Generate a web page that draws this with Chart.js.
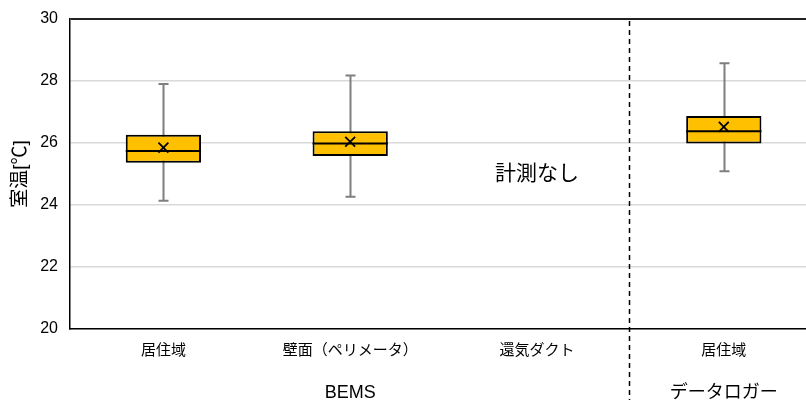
<!DOCTYPE html>
<html>
<head>
<meta charset="utf-8">
<script src="https://cdn.jsdelivr.net/npm/chart.js@4.4.1/dist/chart.umd.min.js"></script>
<style>
  html, body { margin: 0; padding: 0; background: #fff; overflow: hidden; }
  #wrap { width: 826px; height: 400px; position: relative; }
  #c { display: block; }
</style>
</head>
<body>
<div id="wrap"><canvas id="c" width="826" height="400"></canvas></div>
<script>
// Room temperature distribution per measurement point
const categories = ['居住域', '壁面（ペリメータ）', '還気ダクト', '居住域'];
const groups = [
  { label: 'BEMS', from: 0, to: 2 },
  { label: 'データロガー', from: 3, to: 3 }
];
const whiskerMin = [24.14, 24.27, null, 25.09];
const quartile1  = [25.36, 25.58, null, 25.98];
const medians    = [25.74, 25.98, null, 26.38];
const quartile3  = [26.27, 26.38, null, 26.87];
const whiskerMax = [27.90, 28.18, null, 28.57];
const means      = [25.85, 26.04, null, 26.52];
const yTicks = [20, 22, 24, 26, 28, 30];
const noDataIndex = 2;
const noDataText = '計測なし';
const noDataValue = 25;

const FONT = "'Liberation Sans', 'Noto Sans CJK JP', Arial, sans-serif";

const boxPlotPlugin = {
  id: 'boxPlotParts',
  beforeDatasetsDraw(chart) {
    const { ctx, scales: { x, y } } = chart;
    ctx.save();
    ctx.strokeStyle = '#7f7f7f';
    ctx.lineWidth = 2;
    const cap = 5;
    categories.forEach((_, i) => {
      if (whiskerMin[i] == null) return;
      const px = Math.round(x.getPixelForValue(i)) + 0.5;
      const yMin = y.getPixelForValue(whiskerMin[i]);
      const yMax = y.getPixelForValue(whiskerMax[i]);
      ctx.beginPath();
      ctx.moveTo(px, yMin); ctx.lineTo(px, yMax);
      ctx.moveTo(px - cap, yMin); ctx.lineTo(px + cap, yMin);
      ctx.moveTo(px - cap, yMax); ctx.lineTo(px + cap, yMax);
      ctx.stroke();
    });
    ctx.restore();
  },
  afterDatasetDraw(chart, args) {
    if (args.index !== 0) return;
    const { ctx, scales: { y } } = chart;
    const meta = chart.getDatasetMeta(0);
    ctx.save();
    ctx.strokeStyle = '#000';
    ctx.lineWidth = 2;
    meta.data.forEach((bar, i) => {
      if (medians[i] == null) return;
      const half = bar.width / 2;
      const py = y.getPixelForValue(medians[i]);
      ctx.beginPath();
      ctx.moveTo(bar.x - half, py);
      ctx.lineTo(bar.x + half, py);
      ctx.stroke();
    });
    ctx.restore();
  },
  afterDraw(chart) {
    const { ctx, chartArea, scales: { x, y } } = chart;
    ctx.save();
    // "no measurement" note
    ctx.fillStyle = '#000';
    ctx.font = '21px ' + FONT;
    ctx.textAlign = 'center';
    ctx.textBaseline = 'middle';
    ctx.fillText(noDataText, x.getPixelForValue(noDataIndex), y.getPixelForValue(noDataValue));
    // separator between BEMS and data logger
    const sx = Math.round((x.getPixelForValue(2) + x.getPixelForValue(3)) / 2) - 0.5;
    ctx.strokeStyle = '#000';
    ctx.lineWidth = 1.5;
    ctx.setLineDash([5, 4]);
    ctx.beginPath();
    ctx.moveTo(sx, chartArea.top + 2);
    ctx.lineTo(sx, chart.height);
    ctx.stroke();
    ctx.setLineDash([]);
    // group labels
    ctx.font = '18px ' + FONT;
    ctx.fillStyle = '#000';
    groups.forEach(g => {
      const gx = (x.getPixelForValue(g.from) + x.getPixelForValue(g.to)) / 2;
      ctx.fillText(g.label, gx, 393);
    });
    ctx.restore();
  }
};

new Chart(document.getElementById('c'), {
  type: 'bar',
  data: {
    labels: categories,
    datasets: [
      {
        type: 'bar',
        data: categories.map((_, i) => quartile1[i] == null ? null : [quartile1[i], quartile3[i]]),
        backgroundColor: '#FFC000',
        borderColor: '#000',
        borderWidth: 2,
        borderSkipped: false,
        categoryPercentage: 1,
        barPercentage: 0.403,
        order: 2
      },
      {
        type: 'line',
        data: means,
        showLine: false,
        pointStyle: 'crossRot',
        pointRadius: 7,
        pointBorderColor: '#000',
        pointBorderWidth: 1.8,
        order: 1
      }
    ]
  },
  options: {
    responsive: false,
    animation: false,
    events: [],
    layout: { padding: { top: 0, left: 0, right: 0, bottom: 0 } },
    plugins: { legend: { display: false }, tooltip: { enabled: false } },
    scales: {
      x: {
        afterFit(axis) { axis.height = 71; },
        grid: { display: false, drawTicks: false },
        border: { display: true, color: '#000', width: 1.5 },
        ticks: { color: '#000', font: { family: FONT, size: 15 }, padding: 13, maxRotation: 0, autoSkip: false }
      },
      y: {
        min: 20,
        max: 30,
        afterBuildTicks(axis) { axis.ticks = yTicks.map(v => ({ value: v })); },
        afterFit(axis) { axis.width = 70; axis.paddingTop = 19; axis.paddingBottom = 0; },
        grid: {
          drawTicks: false,
          color: ctx => ctx.tick && ctx.tick.value === 30 ? '#222' : '#d9d9d9',
          lineWidth: ctx => ctx.tick && ctx.tick.value === 30 ? 2 : 1.5
        },
        border: { display: true, color: '#000', width: 1.5 },
        ticks: { color: '#000', font: { family: FONT, size: 16 }, padding: 12 },
        title: { display: true, text: '室温[℃]', color: '#000', font: { family: FONT, size: 19 }, padding: { top: 9, bottom: 0 } }
      }
    }
  },
  plugins: [boxPlotPlugin]
});
</script>
</body>
</html>
